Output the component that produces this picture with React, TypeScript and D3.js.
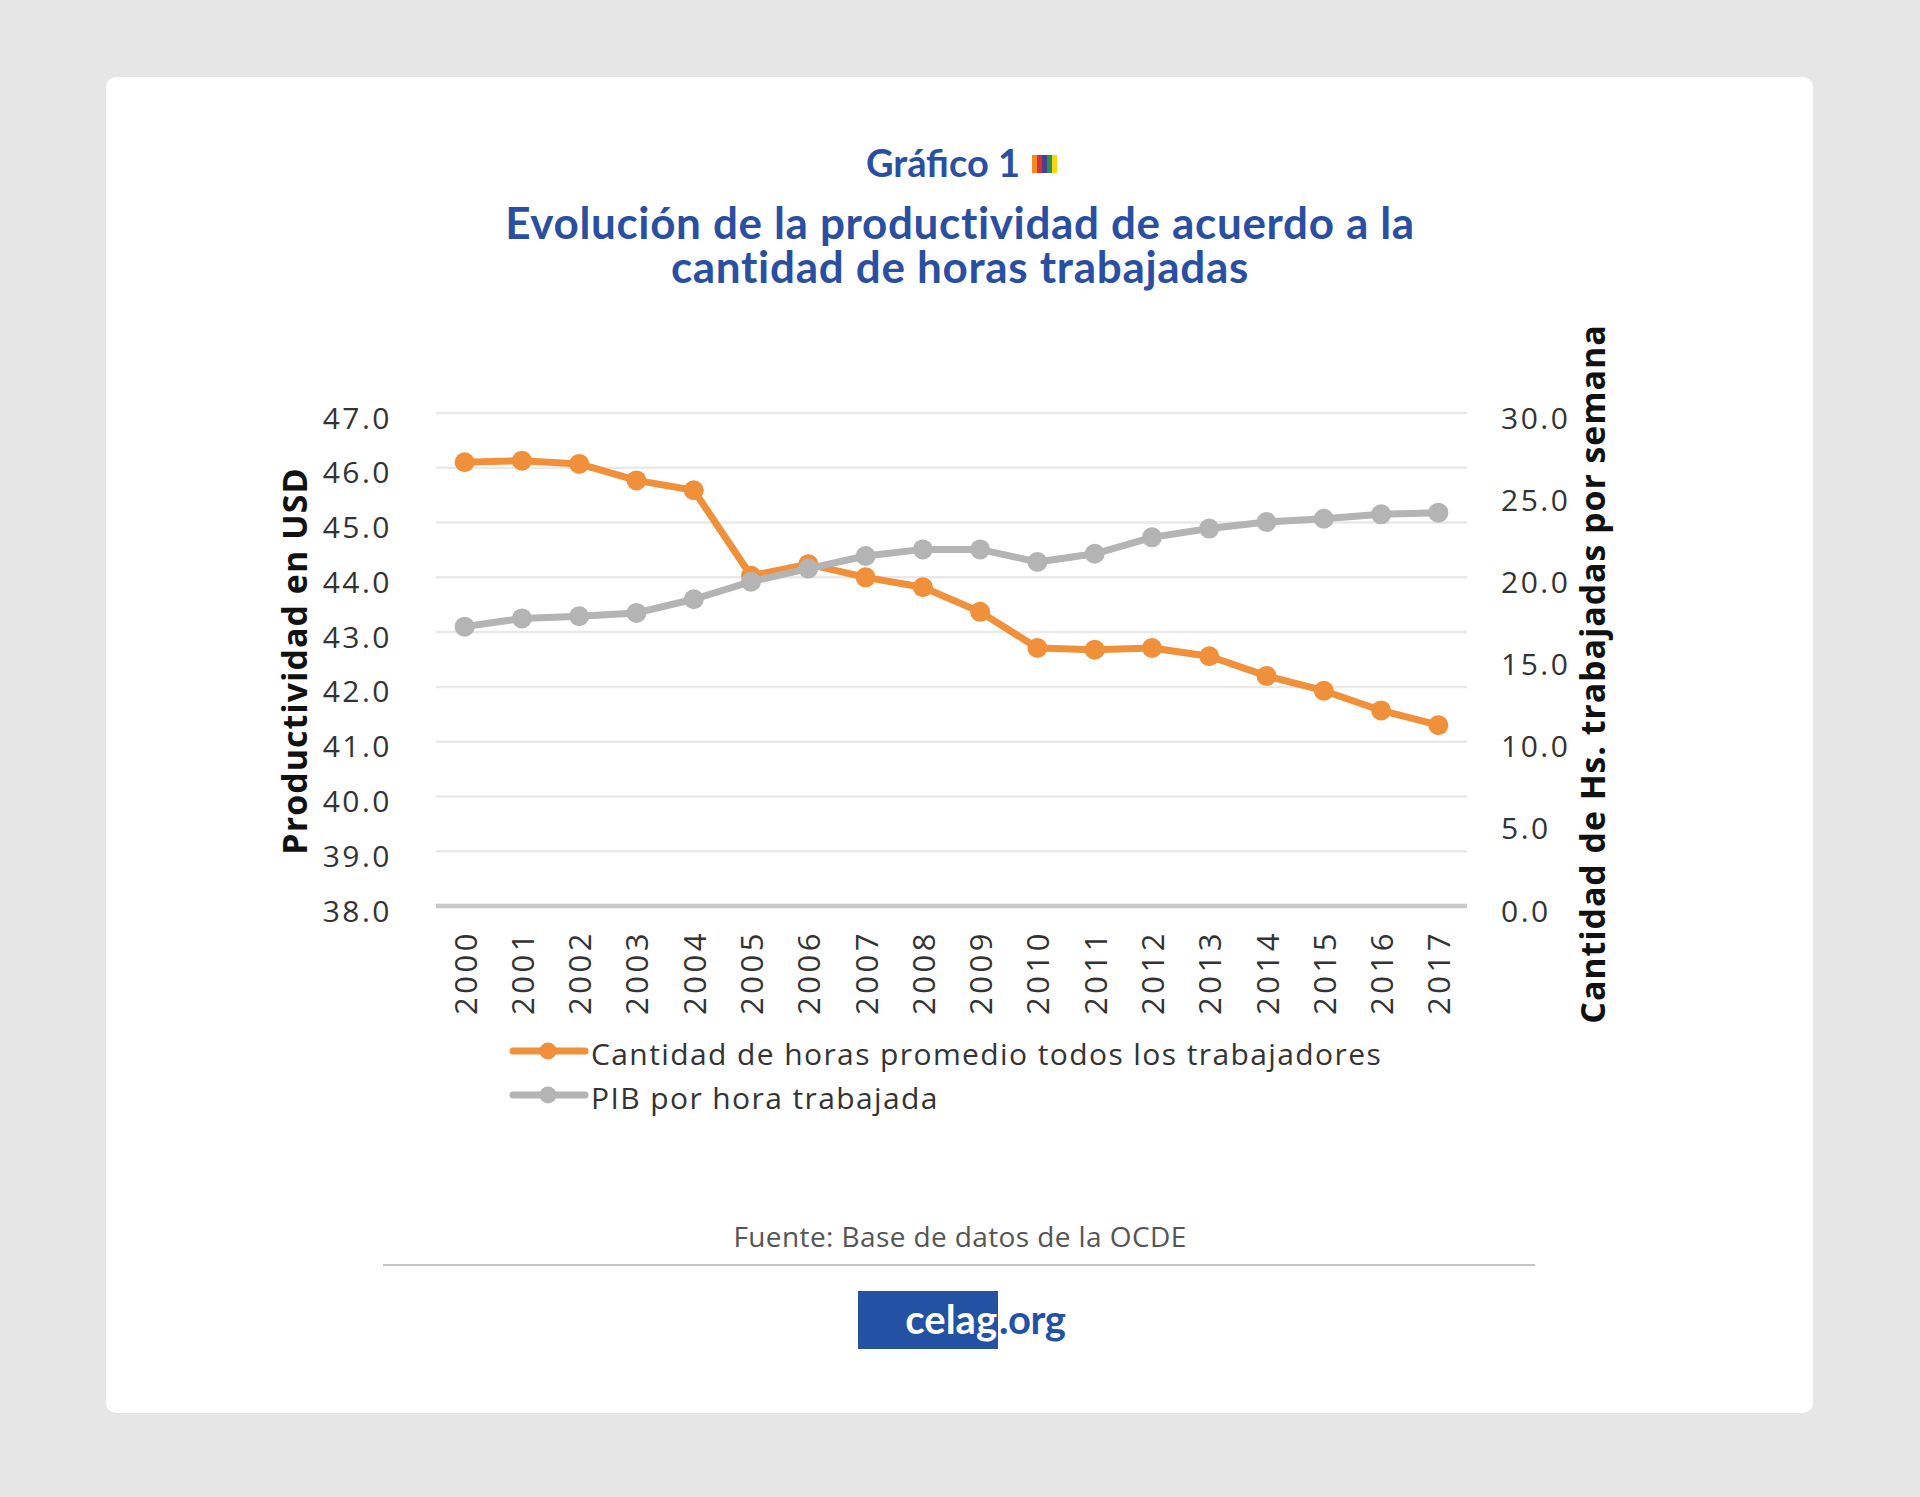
import React from "react";
import * as d3 from "d3";

const years = ["2000","2001","2002","2003","2004","2005","2006","2007","2008","2009","2010","2011","2012","2013","2014","2015","2016","2017"];
// Cantidad de horas promedio (eje derecho, 0–30)
const horasPromedio = [27.0, 27.1, 26.9, 25.9, 25.3, 20.1, 20.8, 20.0, 19.4, 17.9, 15.7, 15.6, 15.7, 15.2, 14.0, 13.1, 11.9, 11.0];
// PIB por hora trabajada (eje izquierdo, 38–47)
const pibPorHora = [43.10, 43.25, 43.29, 43.35, 43.60, 43.92, 44.16, 44.39, 44.51, 44.51, 44.28, 44.43, 44.73, 44.89, 45.01, 45.07, 45.15, 45.18];
const leftTicks = [38, 39, 40, 41, 42, 43, 44, 45, 46, 47];
const rightTicks = [0, 5, 10, 15, 20, 25, 30];
const legendLabels = ["Cantidad de horas promedio todos los trabajadores", "PIB por hora trabajada"];
const flagColors = ["#f08a24", "#d8322e", "#4a3f93", "#2f8f4e", "#f3d713"];

const W = 1920, H = 1497;
const ORANGE = "#f0903a";
const GRAY = "#b4b4b4";
const BLUE = "#2a4fa2";
const FONT = "'Open Sans', 'Noto Sans', sans-serif";
const BOLD = "Lato, 'Open Sans', sans-serif";

export default function App() {
  const x = d3.scaleBand<string>().domain(years).range([436, 1467]);
  const cx = (yr: string) => (x(yr) as number) + x.bandwidth() / 2;
  const yL = d3.scaleLinear().domain([38, 47]).range([906, 413]);
  const yR = d3.scaleLinear().domain([0, 30]).range([906, 413]);
  const fmt = d3.format(".1f");

  const lineL = d3.line<number>().x((_, i) => cx(years[i])).y((d) => yL(d));
  const lineR = d3.line<number>().x((_, i) => cx(years[i])).y((d) => yR(d));

  const series = [
    { values: horasPromedio, color: ORANGE, path: lineR(horasPromedio) as string, yFn: (v: number) => yR(v) },
    { values: pibPorHora, color: GRAY, path: lineL(pibPorHora) as string, yFn: (v: number) => yL(v) },
  ];

  return (
    <svg width={W} height={H} viewBox={`0 0 ${W} ${H}`} style={{ position: "absolute", left: 0, top: 0, display: "block" }}>
      <rect x={0} y={0} width={W} height={H} fill="#e6e6e6" />
      <rect x={106} y={77} width={1707} height={1336} rx={10} fill="#ffffff" />

      {/* Titles */}
      <text x={1020} y={177} textAnchor="end" fontFamily={BOLD} fontWeight={700} fontSize={38} fill={BLUE}>Gráfico 1</text>
      {flagColors.map((c, i) => (
        <rect key={c} x={1032 + i * 5} y={155} width={5} height={18} fill={c} />
      ))}
      <text x={960} y={239} textAnchor="middle" fontFamily={BOLD} fontWeight={700} fontSize={44} letterSpacing={0.65} fill={BLUE}>Evolución de la productividad de acuerdo a la</text>
      <text x={960} y={283} textAnchor="middle" fontFamily={BOLD} fontWeight={700} fontSize={44} letterSpacing={0.7} fill={BLUE}>cantidad de horas trabajadas</text>

      {/* Grid */}
      {leftTicks.filter((t) => t !== 38).map((t) => (
        <line key={t} x1={436} x2={1467} y1={yL(t)} y2={yL(t)} stroke="#e9e9e9" strokeWidth={2.5} />
      ))}
      <line x1={436} x2={1467} y1={yL(38)} y2={yL(38)} stroke="#c9c9c9" strokeWidth={4.5} />

      {/* Left ticks */}
      {leftTicks.map((t) => (
        <text key={t} x={392} y={yL(t) + 4} textAnchor="end" dominantBaseline="central" fontFamily={FONT} fontSize={30} letterSpacing={2.5} fill="#333">{fmt(t)}</text>
      ))}
      {/* Right ticks */}
      {rightTicks.map((t) => (
        <text key={t} x={1501} y={yR(t) + 4} textAnchor="start" dominantBaseline="central" fontFamily={FONT} fontSize={30} letterSpacing={2.5} fill="#333">{fmt(t)}</text>
      ))}
      {/* X labels */}
      {years.map((yr) => (
        <text key={yr} transform={`translate(${cx(yr)},930) rotate(-90)`} textAnchor="end" dominantBaseline="central" fontFamily={FONT} fontSize={31} letterSpacing={3.5} fill="#333">{yr}</text>
      ))}

      {/* Axis titles */}
      <text transform="translate(294,661) rotate(-90)" textAnchor="middle" dominantBaseline="central" fontFamily={FONT} fontWeight={700} fontSize={34} letterSpacing={1} fill="#111">Productividad en USD</text>
      <text transform="translate(1592,674) rotate(-90)" textAnchor="middle" dominantBaseline="central" fontFamily={FONT} fontWeight={700} fontSize={34} letterSpacing={0.9} fill="#111">Cantidad de Hs. trabajadas por semana</text>

      {/* Series */}
      {series.map((s, si) => (
        <g key={si}>
          <path d={s.path} fill="none" stroke={s.color} strokeWidth={7} strokeLinejoin="round" />
          {s.values.map((v, i) => (
            <circle key={i} cx={cx(years[i])} cy={s.yFn(v)} r={10} fill={s.color} />
          ))}
        </g>
      ))}

      {/* Legend */}
      {legendLabels.map((lab, i) => {
        const ly = 1051 + i * 44;
        const col = i === 0 ? ORANGE : GRAY;
        return (
          <g key={lab}>
            <line x1={513} x2={585} y1={ly} y2={ly} stroke={col} strokeWidth={7} strokeLinecap="round" />
            <circle cx={548} cy={ly} r={8.5} fill={col} />
            <text x={591} y={ly + 2} dominantBaseline="central" fontFamily={FONT} fontSize={30} letterSpacing={1.4} fill="#333">{lab}</text>
          </g>
        );
      })}

      {/* Source */}
      <text x={960} y={1247} textAnchor="middle" fontFamily={FONT} fontSize={28} letterSpacing={0.4} fill="#555">Fuente: Base de datos de la OCDE</text>
      <line x1={383} x2={1535} y1={1265} y2={1265} stroke="#c4c4c4" strokeWidth={2} />

      {/* Logo */}
      <rect x={858} y={1291} width={140} height={58} fill="#2351a3" />
      <text x={997} y={1334} textAnchor="end" fontFamily={BOLD} fontWeight={700} fontSize={40} fill="#ffffff">celag</text>
      <text x={999} y={1334} textAnchor="start" fontFamily={BOLD} fontWeight={700} fontSize={40} letterSpacing={-0.5} fill="#2351a3">.org</text>
    </svg>
  );
}
